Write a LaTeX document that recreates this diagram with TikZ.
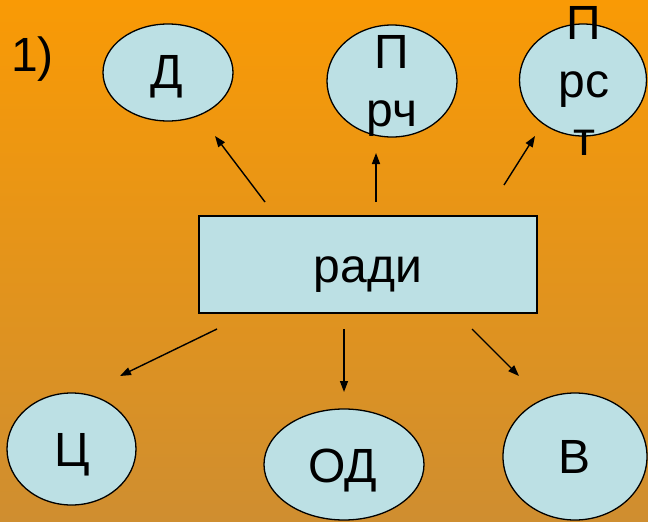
\documentclass[tikz,border=0pt]{standalone}
\usepackage{fontspec}
\setmainfont{Liberation Sans}
\usetikzlibrary{shapes.geometric,arrows.meta}
\definecolor{bubblefill}{RGB}{188,224,228}
\definecolor{bgtop}{RGB}{249,154,5}
\definecolor{bgbottom}{RGB}{207,142,48}
\tikzset{
  bubble/.style={ellipse,draw=black,line width=1.3pt,fill=bubblefill,inner sep=0pt},
  hubbox/.style={rectangle,draw=black,line width=1.6pt,fill=bubblefill,inner sep=0pt},
  word/.style={inner sep=0pt,font=\fontsize{48}{58}\selectfont,align=center},
  pointer/.style={line width=1.4pt,-{Triangle[length=11pt,width=8pt]}}
}

\begin{document}
\begin{tikzpicture}[x=1pt,y=-1pt]
		%%%%% START %%%%%
		
		\shade[top color=bgtop,bottom color=bgbottom] (0,0) rectangle (648,522);
		\useasboundingbox (0,0) rectangle (648,522);
		
		\node[word,anchor=base west] (num) at (11,71) {1)};
		
		\node[bubble,minimum width=130pt,minimum height=97pt] (d) at (168,72.5) {};
		\node[bubble,minimum width=130pt,minimum height=112pt] (prch) at (392,81) {};
		\node[bubble,minimum width=127pt,minimum height=112pt] (prst) at (583,80) {};
		
		\node[word,anchor=base] (dtext) at (167,88) {Д};
		\node[word] (prchtext) at (392,86) {П\\рч};
		\node[word] (prsttext) at (584,80.5) {П\\рс\\т};
		
		\node[hubbox,minimum width=338pt,minimum height=97pt] (hub) at (368,264.5) {};
		\node[word,anchor=base] (hubtext) at (368,282) {ради};
		
		\node[bubble,minimum width=129pt,minimum height=112pt] (ts) at (71.5,449) {};
		\node[bubble,minimum width=160pt,minimum height=111pt] (od) at (344,464.5) {};
		\node[bubble,minimum width=144pt,minimum height=127pt] (v) at (575,456.5) {};
		
		\node[word,anchor=base] (tstext) at (72,466) {Ц};
		\node[word,anchor=base] (odtext) at (343,482) {ОД};
		\node[word,anchor=base] (vtext) at (575,473) {В};
		
		% free ends of the pointers
		\coordinate (upL) at (265,202);
		\coordinate (upM) at (376,202);
		\coordinate (upR) at (504,185);
		\coordinate (dL) at (120,376);
		\coordinate (dM) at (344,392);
		\coordinate (dR) at (519,376);
		\coordinate (lowL) at (217,329);
		\coordinate (lowM) at (344,329);
		\coordinate (lowR) at (472,329);
		\coordinate (tipL) at (215,136);
		\coordinate (tipM) at (376,153);
		\coordinate (tipR) at (535,136);
		
		\draw[pointer] (upL) -- (tipL);
		\draw[pointer] (upM) -- (tipM);
		\draw[pointer] (upR) -- (tipR);
		\draw[pointer] (lowL) -- (dL);
		\draw[pointer] (lowM) -- (dM);
		\draw[pointer] (lowR) -- (dR);
		
		%%%%% END %%%%%
	\end{tikzpicture}
\end{document}
